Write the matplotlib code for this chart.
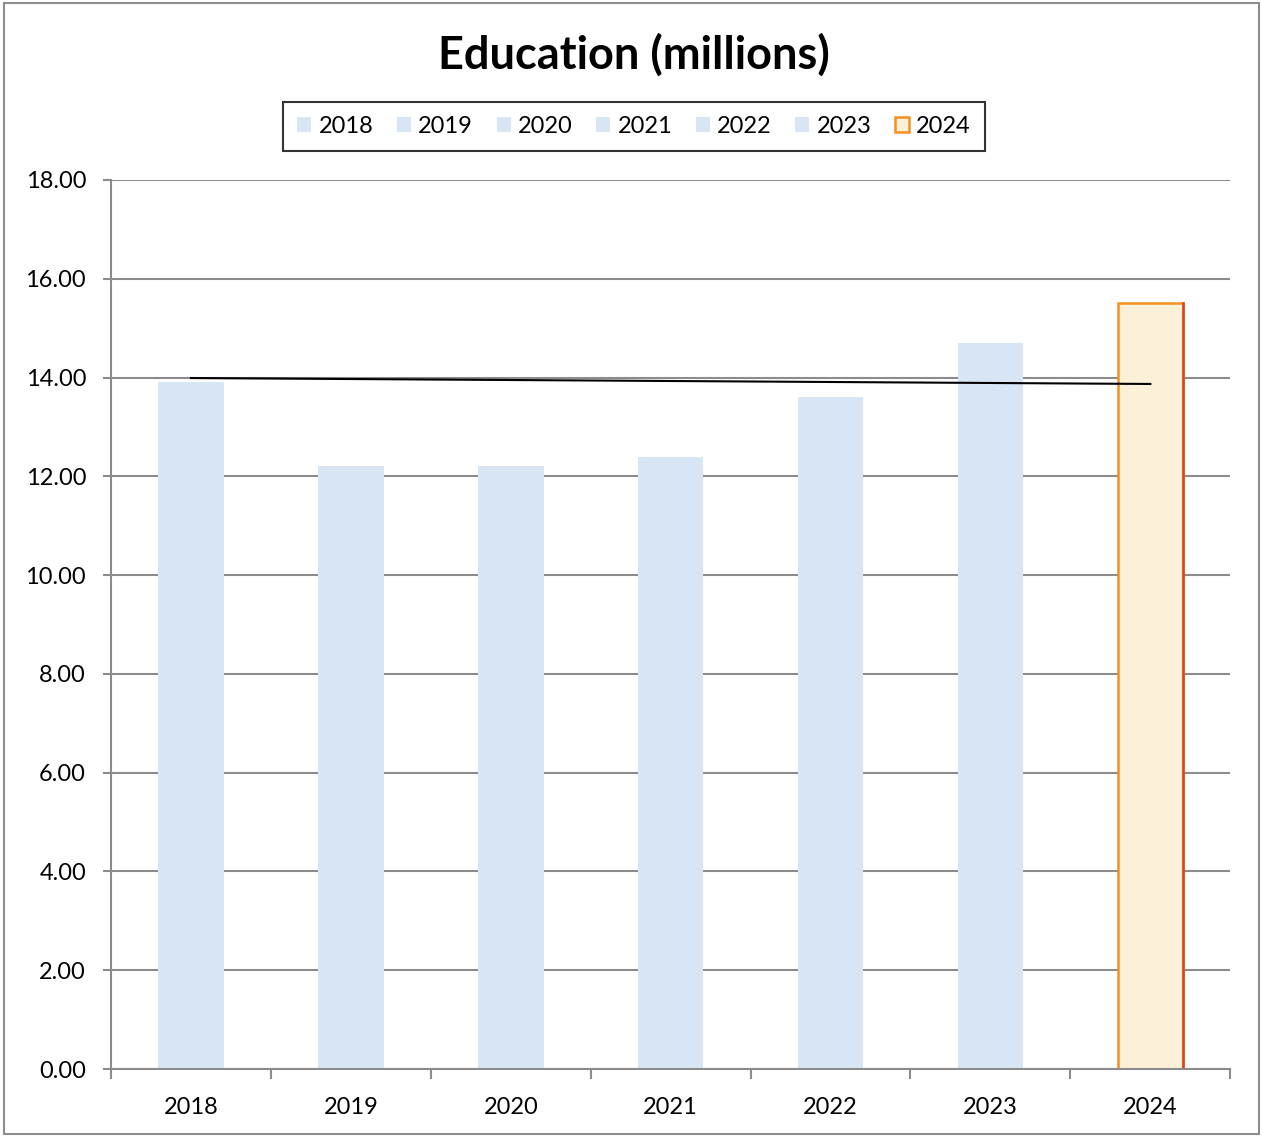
import matplotlib.pyplot as plt
from matplotlib.patches import Rectangle

# data
years = ["2018", "2019", "2020", "2021", "2022", "2023", "2024"]
values = [13.9, 12.2, 12.2, 12.4, 13.6, 14.7, 15.5]
trend_years = ["2018", "2024"]
trend_values = [13.99, 13.87]
y_ticks = [0, 2, 4, 6, 8, 10, 12, 14, 16, 18]

plt.rcParams["font.family"] = ["Lato", "DejaVu Sans"]

BLUE = "#d8e5f5"
PEACH = "#fdf0d8"
GRID = "#8c8c8c"


def main():
    fig = plt.figure(figsize=(12.63, 11.37), dpi=100)
    ax = fig.add_axes([0.0879, 0.0598, 0.8862, 0.7819])

    x = list(range(len(years)))
    for i, (yr, val) in enumerate(zip(years, values)):
        if yr == "2024":
            bars = ax.bar(i, val, width=0.41, color=PEACH, edgecolor="#f5901e",
                          linewidth=1.8, label=yr, zorder=2)
            # right side of the highlighted bar is redder, like the original
            p = bars[0]
            x1 = p.get_x() + p.get_width()
            ax.plot([x1, x1], [0, val], color="#e0401a", linewidth=1.8, zorder=2.5)
        else:
            ax.bar(i, val, width=0.41, color=BLUE, edgecolor="none",
                   label=yr, zorder=2)

    tx = [years.index(t) for t in trend_years]
    ax.plot(tx, trend_values, color="black", linewidth=1.5, zorder=3)

    ax.set_xlim(-0.5, len(years) - 0.5)
    ax.set_ylim(0, 18)
    ax.set_yticks(y_ticks)
    ax.set_yticklabels([f"{v:.2f}" for v in y_ticks])
    ax.set_xticks(x)
    ax.set_xticklabels(years)
    ax.set_xticks([i - 0.5 for i in range(len(years) + 1)], minor=True)

    ax.yaxis.grid(True, color=GRID, linewidth=1.5, zorder=0)
    ax.set_axisbelow(True)
    for side in ["top", "right"]:
        ax.spines[side].set_visible(False)
    for side in ["left", "bottom"]:
        ax.spines[side].set_color(GRID)
        ax.spines[side].set_linewidth(1.5)

    ax.tick_params(axis="y", direction="out", length=6, width=1.5,
                   color=GRID, labelsize=17, pad=12)
    ax.tick_params(axis="x", which="major", length=0, labelsize=17, pad=20)
    ax.tick_params(axis="x", which="minor", direction="out", length=7,
                   width=1.5, color=GRID)

    fig.text(0.502, 0.952, "Education (millions)", ha="center", va="center",
             fontsize=32.5, fontweight="bold")

    leg = ax.legend(loc="center", bbox_to_anchor=(0.502, 0.889),
                    bbox_transform=fig.transFigure, ncol=7, frameon=True,
                    fancybox=False, fontsize=17, handlelength=0.6,
                    handleheight=0.6, handletextpad=0.3, columnspacing=1.0,
                    borderpad=0.6, borderaxespad=0)
    leg.get_frame().set_edgecolor("black")
    leg.get_frame().set_linewidth(1.5)

    fig.patches.append(Rectangle((0.003, 0.003), 0.994, 0.994,
                                 transform=fig.transFigure, fill=False,
                                 edgecolor=GRID, linewidth=1.5))

    fig.savefig("out.png", dpi=100)
    plt.close(fig)


if __name__ == "__main__":
    main()
